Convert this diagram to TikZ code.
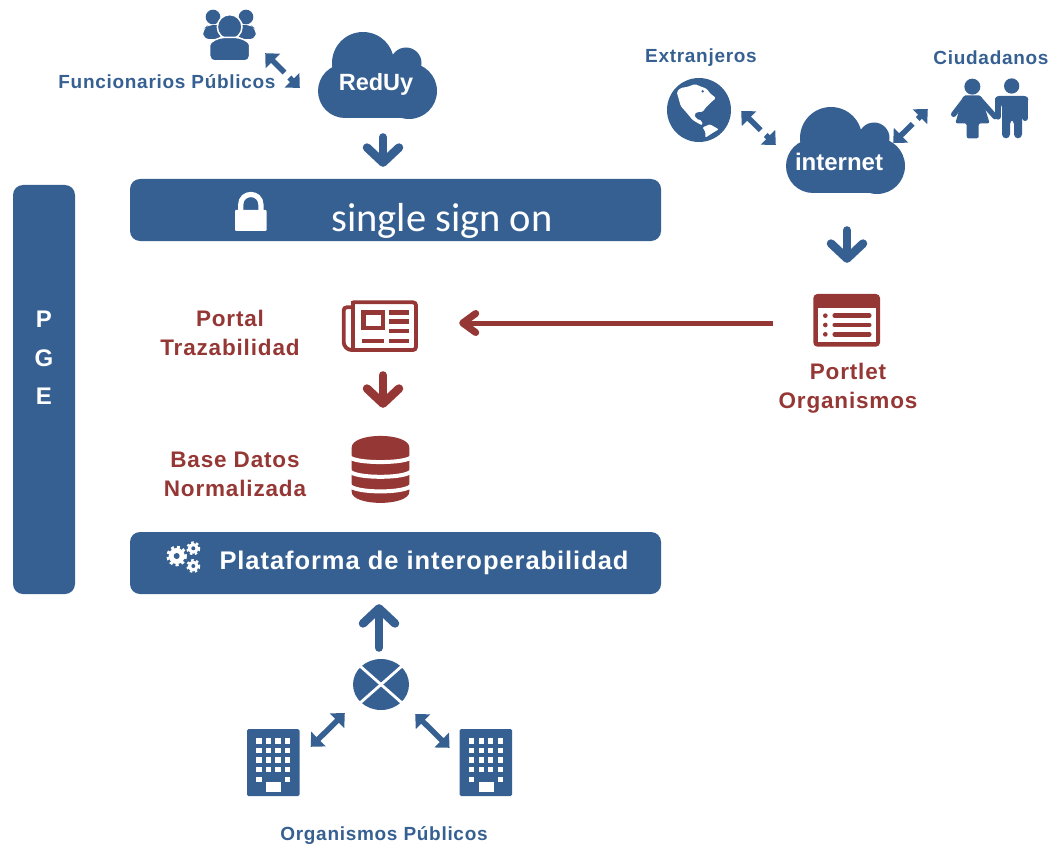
\documentclass[tikz,border=0pt]{standalone}
\usepackage{fontspec}
\setmainfont{Liberation Sans}
\newfontfamily\calibrifont{Carlito}
\newfontfamily\spacedfont[LetterSpace=3.7]{Liberation Sans}
\usetikzlibrary{arrows.meta,shapes.geometric}
\definecolor{barblue}{HTML}{366092}
\definecolor{darkred}{HTML}{953735}
\tikzset{
  bar/.style={fill=barblue,rounded corners=10pt,inner sep=0pt,text=white},
  box/.style={inner sep=0pt,minimum width=#1},
  bluelabel/.style={text=barblue,font=\spacedfont\bfseries\fontsize{19}{22}\selectfont,align=center,inner sep=0pt},
  redlabel/.style={text=darkred,font=\spacedfont\bfseries\fontsize{22.5}{29}\selectfont,align=center,inner sep=0pt},
  fatblue/.style={draw=barblue,line width=8pt,line cap=round,-{Straight Barb[length=15pt,width=32pt,round,line width=8.5pt]}},
  fatred/.style={draw=darkred,line width=8pt,line cap=round,-{Straight Barb[length=15pt,width=32pt,round,line width=8.5pt]}},
  linkred/.style={draw=darkred,line width=5pt,-{Straight Barb[length=13pt,width=19pt,round,line width=7pt]}},
  twoway/.style={draw=barblue,line width=5.5pt,{Triangle[length=11pt,width=20pt]}-{Triangle[length=11pt,width=20pt]}},
  twowaygap/.style={twoway,dash pattern=on 17pt off 7pt},
  zoomed/.style={shift={#1},scale=0.3333},
}
\newcommand\cloudat[2]{%
  \begin{scope}[shift={(#1,#2)}]
    \fill[barblue] (45,31) circle (31);
    \fill[barblue] (88,31) circle (15.5);
    \fill[barblue] (27,59) circle (27);
    \fill[barblue] (91,59) circle (28);
    \fill[barblue] (27,36) rectangle (91,86);
  \end{scope}}
\newcommand\gearat[5]{%
  \fill[white] (#1,#2) circle (#3*0.82);
  \draw[white,line width=#3*0.34,dash pattern=on #4pt off #4pt] (#1,#2) circle (#3*0.88);
  \fill[barblue] (#1,#2) circle (#5);}
\newcommand\towerat[2]{%
  \begin{scope}[shift={(#1,#2)}]
    \fill[barblue,rounded corners=1.5pt] (0,0) rectangle (52.5,67);
    \foreach \wx in {12,21.5,31,40.5}{\foreach \wy in {12,21.5,31,40.5}{
      \fill[white] (\wx-2.7,\wy-2.7) rectangle (\wx+2.7,\wy+2.7);}}
    \foreach \wx in {12,40.5}{\fill[white] (\wx-2.7,47.5) rectangle (\wx+2.7,52.8);}
    \fill[white] (19,53) rectangle (34,63);
  \end{scope}}
\begin{document}
\begin{tikzpicture}[x=1pt,y=-1pt]
\useasboundingbox (0,0) rectangle (1062,845);
% bars
\node[bar,minimum width=62pt,minimum height=409pt] (pge) at (44,389.5) {};
\node[text=white,font=\bfseries\fontsize{24}{38.5}\selectfont,align=center,inner sep=0pt] (pgetext) at (44,358) {P\\G\\E};
\node[bar,minimum width=531pt,minimum height=62pt] (sso) at (395.5,210) {};
\node[text=white,inner sep=0pt,font=\calibrifont\fontsize{40.5}{44}\selectfont] (ssotext) at (442,221) {single sign on};
\node[bar,minimum width=531pt,minimum height=62pt] (plat) at (395.5,563) {};
\node[text=white,inner sep=0pt,font=\spacedfont\bfseries\fontsize{25.5}{30}\selectfont] (plattext) at (424,563) {Plataforma de interoperabilidad};
% icon boxes
\node[box=119pt,minimum height=86pt] (reduy) at (377.5,75) {};
\node[box=119pt,minimum height=87pt] (inet) at (845.5,150.5) {};
\node[box=54pt,minimum height=50pt] (group) at (230,35) {};
\node[box=64pt,minimum height=64pt] (globe) at (699,110) {};
\node[box=80pt,minimum height=60pt] (people) at (990,110) {};
\node[box=77pt,minimum height=46pt] (portal) at (380.5,323) {};
\node[box=67pt,minimum height=58pt] (portlet) at (846.5,323) {};
\node[box=58pt,minimum height=67pt] (db) at (380.5,469.5) {};
\node[box=52.5pt,minimum height=67pt] (towerl) at (273.25,762.5) {};
\node[box=52.5pt,minimum height=67pt] (towerr) at (486,762.5) {};
\node[draw=none,fill=barblue,ellipse,inner sep=0pt,minimum width=56pt,minimum height=51pt] (hub) at (381,684.5) {};
\draw[white,line width=2.8pt] (360,666) -- (402,703);
\draw[white,line width=2.8pt] (402,666) -- (360,703);
% clouds
\cloudat{318}{32}
\cloudat{786}{107}
\node[text=white,inner sep=0pt,font=\bfseries\fontsize{23.5}{26}\selectfont] (reduytext) at (376,84.5) {RedUy};
\node[text=white,inner sep=0pt,font=\bfseries\fontsize{24}{26}\selectfont] (inettext) at (839,162) {internet};
% labels
\node[bluelabel] (lfunc) at (167,82) {Funcionarios Públicos};
\node[bluelabel] (lextr) at (701,58) {Extranjeros};
\node[bluelabel] (lciud) at (991,58) {Ciudadanos};
\node[bluelabel] (lorg) at (384,836) {Organismos Públicos};
\node[redlabel] (lportal) at (230,333) {Portal\\Trazabilidad};
\node[redlabel] (lportlet) at (848,388) {Portlet\\Organismos};
\node[redlabel] (lbase) at (235,474) {Base Datos\\Normalizada};
% lock
\begin{scope}[zoomed={(225,185)}]
  \draw[white,line width=5.2pt] (47,80) -- (47,60) .. controls (47,18) and (108,18) .. (108,60) -- (108,80);
  \fill[white,rounded corners=1pt] (30,75) rectangle (125,138);
\end{scope}
% gears
\gearat{176.7}{556}{9.8}{2.9}{3}
\gearat{193.3}{548.3}{6.6}{2.5}{2}
\gearat{193.3}{566}{6.6}{2.5}{2}
% group icon
\begin{scope}[zoomed={(195,5)}]
  \fill[barblue] (54,36) circle (22);
  \fill[barblue] (153,36) circle (22);
  \fill[barblue,rounded corners=6pt] (25,102) -- (25,72) -- (40,60) -- (80,60) -- (80,102) -- cycle;
  \fill[barblue,rounded corners=6pt] (182,102) -- (182,72) -- (167,60) -- (127,60) -- (127,102) -- cycle;
  \filldraw[fill=barblue,draw=white,line width=1.5pt] (104,66) circle (37);
  \filldraw[fill=barblue,draw=white,line width=1.5pt,rounded corners=5pt] (44,168) -- (44,135) .. controls (44,110) and (70,97) .. (104,97) .. controls (138,97) and (164,110) .. (164,135) -- (164,168) -- cycle;
\end{scope}
% globe
\fill[barblue] (globe) circle (32);
\begin{scope}[zoomed={(660,70)}]
  \fill[white,rounded corners=1.5pt] (50,66) -- (62,54) -- (85,50) -- (105,42) -- (118,48) -- (140,56) -- (150,70) -- (168,84) -- (152,98) -- (136,114) -- (128,126) -- (112,126) -- (103,132) -- (108,146) -- (125,152) -- (128,166) -- (118,162) -- (98,150) -- (78,126) -- (62,108) -- (56,86) -- cycle;
  \fill[white,rounded corners=1pt] (128,172) -- (150,163) -- (176,178) -- (156,190) -- (136,203) -- (136,186) -- cycle;
  \fill[barblue] (128,64) circle (4);
  \fill[barblue] (122,134) circle (3);
\end{scope}
% people
\begin{scope}[zoomed={(945,70)}]
  \fill[barblue] (82,50) circle (24);
  \fill[barblue] (200,48) circle (23);
  \draw[barblue,line width=5.4pt,line cap=round] (62,86) -- (26,133);
  \draw[barblue,line width=5.4pt,line cap=round] (102,86) -- (150,140);
  \fill[barblue,rounded corners=2pt] (55,76) -- (108,76) -- (134,160) -- (101,160) -- (101,205) -- (65,205) -- (65,160) -- (31,160) -- cycle;
  \fill[barblue,rounded corners=4pt] (150,78) -- (250,78) -- (250,100) -- (231,100) -- (231,205) -- (207,205) -- (207,150) -- (195,150) -- (195,205) -- (171,205) -- (171,100) -- (150,100) -- cycle;
  \draw[barblue,line width=6pt,line cap=round] (159,88) -- (159,140);
  \draw[barblue,line width=6pt,line cap=round] (241,88) -- (241,144);
\end{scope}
% newspaper
\begin{scope}[zoomed={(320,280)}]
  \draw[darkred,line width=3.8pt,rounded corners=3pt] (98,67) -- (288,67) -- (288,210) -- (85,210) -- (71,195) -- (71,82) -- (98,82);
  \draw[darkred,line width=3.8pt] (98,62) -- (98,205);
  \draw[darkred,line width=4.4pt] (131,98) rectangle (189,144);
  \foreach \ly in {97,125,153,183}{\draw[darkred,line width=4.4pt] (208,\ly) -- (266,\ly);}
  \draw[darkred,line width=4.4pt] (125,183) -- (193,183);
\end{scope}
% database
\begin{scope}[zoomed={(320,280)}]
  \fill[darkred] (95,503) .. controls (95,456) and (268,456) .. (268,503) -- (268,635) .. controls (268,680) and (95,680) .. (95,635) -- cycle;
  \draw[white,line width=4pt] (88,529) .. controls (95,552) and (268,552) .. (275,529);
  \draw[white,line width=4pt] (88,571) .. controls (95,597) and (268,597) .. (275,571);
  \draw[white,line width=4pt] (88,614) .. controls (95,641) and (268,641) .. (275,614);
\end{scope}
% portlet
\begin{scope}[zoomed={(780,280)}]
  \fill[darkred,rounded corners=4pt] (100,42) rectangle (300,200);
  \fill[white] (115,85) rectangle (287,187);
  \foreach \ly in {107,135,163}{
    \fill[darkred] (136,\ly) circle (7);
    \draw[darkred,line width=4.4pt,line cap=round] (164,\ly) -- (268,\ly);}
\end{scope}
% towers
\towerat{247}{729}
\towerat{459.7}{729}
% connectors
\draw[fatblue,shorten <=19pt,shorten >=12pt] ([xshift=5.5pt]reduy.south) -- ([xshift=-12.5pt]sso.north);
\draw[fatblue,shorten <=36pt,shorten >=31pt] ([xshift=1.5pt]inet.south) -- ([xshift=.5pt]portlet.north);
\draw[fatblue,shorten <=11pt,shorten >=10pt] ([xshift=-2pt]hub.north) -- ([xshift=-16.5pt]plat.south);
\draw[fatred,shorten <=29pt,shorten >=28pt] ([xshift=2.5pt]portal.south) -- ([xshift=2.5pt]db.north);
\draw[linkred,shorten <=40pt,shorten >=40pt] (portlet.west) -- (portal.east);
\draw[twowaygap] ([shift={(8,-7)}]group.south east) -- ([shift={(-18,13)}]reduy.west);
\draw[twowaygap] ([shift={(10,1)}]globe.east) -- ([shift={(-10,-5.5)}]inet.west);
\draw[twowaygap] ([shift={(-12,-7.5)}]inet.east) -- ([shift={(-22,-1)}]people.west);
\draw[twoway] ([shift={(11,18)}]towerl.north east) -- ([shift={(-8,28.5)}]hub.west);
\draw[twoway] ([shift={(-10,19)}]towerr.north west) -- ([shift={(6,29.5)}]hub.east);
\end{tikzpicture}
\end{document}
